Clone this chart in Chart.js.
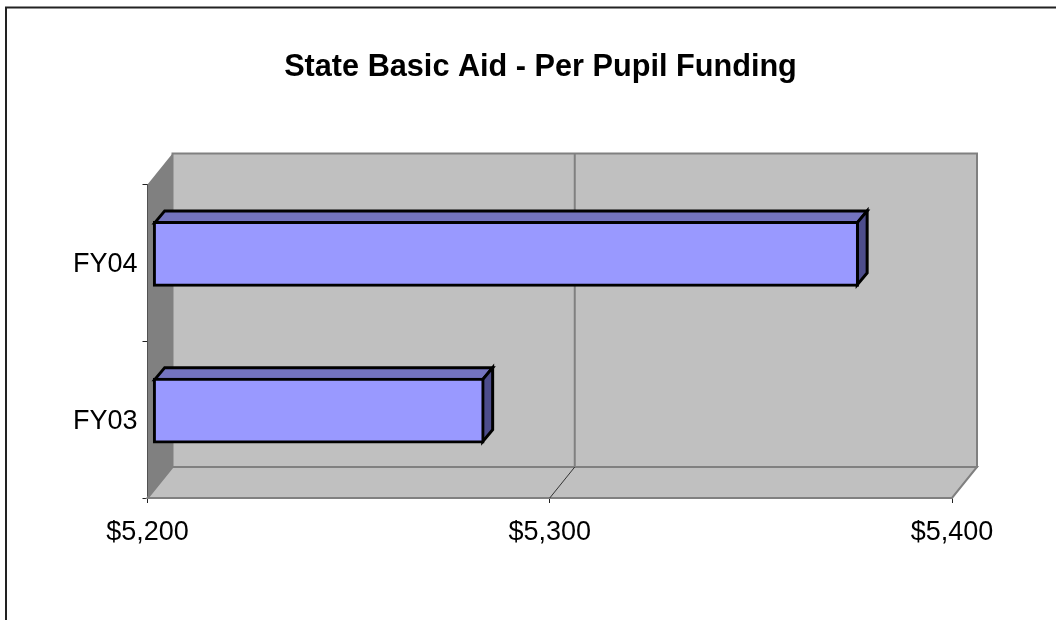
<!DOCTYPE html>
<html>
<head>
<meta charset="utf-8">
<script src="https://cdn.jsdelivr.net/npm/chart.js@4"></script>
<style>
  html, body { margin: 0; padding: 0; background: #fff; overflow: hidden; }
  canvas { display: block; }
</style>
</head>
<body>
<canvas id="chart" width="1056" height="620"></canvas>
<script>
const titleText = 'State Basic Aid - Per Pupil Funding';
const categories = ['FY04', 'FY03'];
const fundingValues = [5375.5, 5282.4];
const axisMin = 5200;
const axisMax = 5400;
const axisStep = 100;

// depth of the fake 3D box and of the bars, in px
const wallDepth = { x: 25, y: -31 };
const barDepth = { x: 10, y: -12 };
const barOffset = { x: 5.2, y: -9 };
const barBorder = 3;

function poly(ctx, pts, fill, stroke, lw) {
  ctx.beginPath();
  pts.forEach((p, i) => i ? ctx.lineTo(p[0], p[1]) : ctx.moveTo(p[0], p[1]));
  ctx.closePath();
  if (fill) { ctx.fillStyle = fill; ctx.fill(); }
  if (stroke) { ctx.strokeStyle = stroke; ctx.lineWidth = lw; ctx.lineJoin = 'miter'; ctx.stroke(); }
}

const boxPlugin = {
  id: 'box3d',
  afterLayout(chart) {
    // title sits centred on the page frame, not on the padded area
    chart.titleBlock.left += 34.5;
    chart.titleBlock.right += 34.5;
  },
  beforeDraw(chart) {
    let { ctx, width, height } = chart;
    ctx.save();
    ctx.fillStyle = '#fff';
    ctx.fillRect(0, 0, width, height);
    // outer frame, cut by the page on the right and bottom
    ctx.strokeStyle = '#222';
    ctx.lineWidth = 2;
    ctx.beginPath();
    ctx.moveTo(6, height);
    ctx.lineTo(6, 7.5);
    ctx.lineTo(width, 7.5);
    ctx.stroke();
    ctx.restore();
  },
  beforeDatasetsDraw(chart) {
    let { ctx, chartArea: a, scales: { x } } = chart;
    let dx = wallDepth.x, dy = wallDepth.y;
    ctx.save();
    // back wall
    poly(ctx, [[a.left + dx, a.top + dy], [a.right + dx, a.top + dy], [a.right + dx, a.bottom + dy], [a.left + dx, a.bottom + dy]], '#c0c0c0', '#808080', 2);
    // left wall
    poly(ctx, [[a.left, a.top], [a.left + dx, a.top + dy], [a.left + dx, a.bottom + dy], [a.left, a.bottom]], '#808080');
    // floor
    poly(ctx, [[a.left, a.bottom], [a.left + dx, a.bottom + dy], [a.right + dx, a.bottom + dy], [a.right, a.bottom]], '#c0c0c0', '#808080', 2);
    // grid lines on back wall and floor
    x.ticks.forEach(t => {
      if (t.value <= axisMin || t.value >= axisMax) return;
      let px = x.getPixelForValue(t.value);
      ctx.strokeStyle = '#808080';
      ctx.lineWidth = 2;
      ctx.beginPath();
      ctx.moveTo(px + dx, a.top + dy);
      ctx.lineTo(px + dx, a.bottom + dy);
      ctx.stroke();
      ctx.strokeStyle = '#333';
      ctx.lineWidth = 1;
      ctx.beginPath();
      ctx.moveTo(px + dx, a.bottom + dy);
      ctx.lineTo(px, a.bottom);
      ctx.stroke();
    });
    ctx.restore();
  },
  beforeDatasetDraw(chart, args) {
    let { ctx } = chart;
    ctx.save();
    ctx.translate(barOffset.x, barOffset.y);
    // top and side faces, behind the front face
    args.meta.data.forEach(bar => {
      let inset = barBorder / 2;
      let l = bar.base + inset, r = bar.x - inset;
      let t = bar.y - bar.height / 2 + inset, b = bar.y + bar.height / 2 - inset;
      let dx = barDepth.x, dy = barDepth.y;
      poly(ctx, [[l, t], [l + dx, t + dy], [r + dx, t + dy], [r, t]], '#7373bf', '#000', barBorder);
      poly(ctx, [[r, t], [r + dx, t + dy], [r + dx, b + dy], [r, b]], '#4d4d8c', '#000', barBorder);
    });
  },
  afterDatasetDraw(chart) {
    chart.ctx.restore();
  }
};

new Chart(document.getElementById('chart').getContext('2d'), {
  type: 'bar',
  data: {
    labels: categories,
    datasets: [{
      data: fundingValues,
      base: axisMin,
      clip: false,
      backgroundColor: '#9999ff',
      borderColor: '#000',
      borderWidth: barBorder,
      borderSkipped: false,
      barThickness: 65
    }]
  },
  options: {
    indexAxis: 'y',
    responsive: false,
    animation: false,
    layout: { padding: { left: 60, right: 104, top: 0, bottom: 0 } },
    plugins: {
      legend: { display: false },
      tooltip: { enabled: false },
      title: {
        display: true,
        text: titleText,
        color: '#000',
        font: { family: '"Liberation Sans"', size: 30.67, weight: 'bold' },
        padding: { top: 49, bottom: 98.7 }
      }
    },
    scales: {
      x: {
        min: axisMin,
        max: axisMax,
        ticks: {
          stepSize: axisStep,
          maxRotation: 0,
          color: '#000',
          padding: 13,
          font: { family: '"Liberation Sans"', size: 27 },
          callback: v => '$' + v.toLocaleString('en-US')
        },
        grid: { drawOnChartArea: false, drawTicks: true, tickLength: 5, color: '#222' },
        border: { color: '#222', width: 1.5 },
        afterFit: s => { s.height = 122; }
      },
      y: {
        ticks: {
          color: '#000',
          padding: 5,
          labelOffset: 1.5,
          font: { family: '"Liberation Sans"', size: 27 }
        },
        grid: { drawOnChartArea: false, drawTicks: true, tickLength: 5, color: '#222' },
        border: { color: '#222', width: 1.5 },
        afterFit: s => { s.width = 87.5; }
      }
    }
  },
  plugins: [boxPlugin]
});
</script>
</body>
</html>
